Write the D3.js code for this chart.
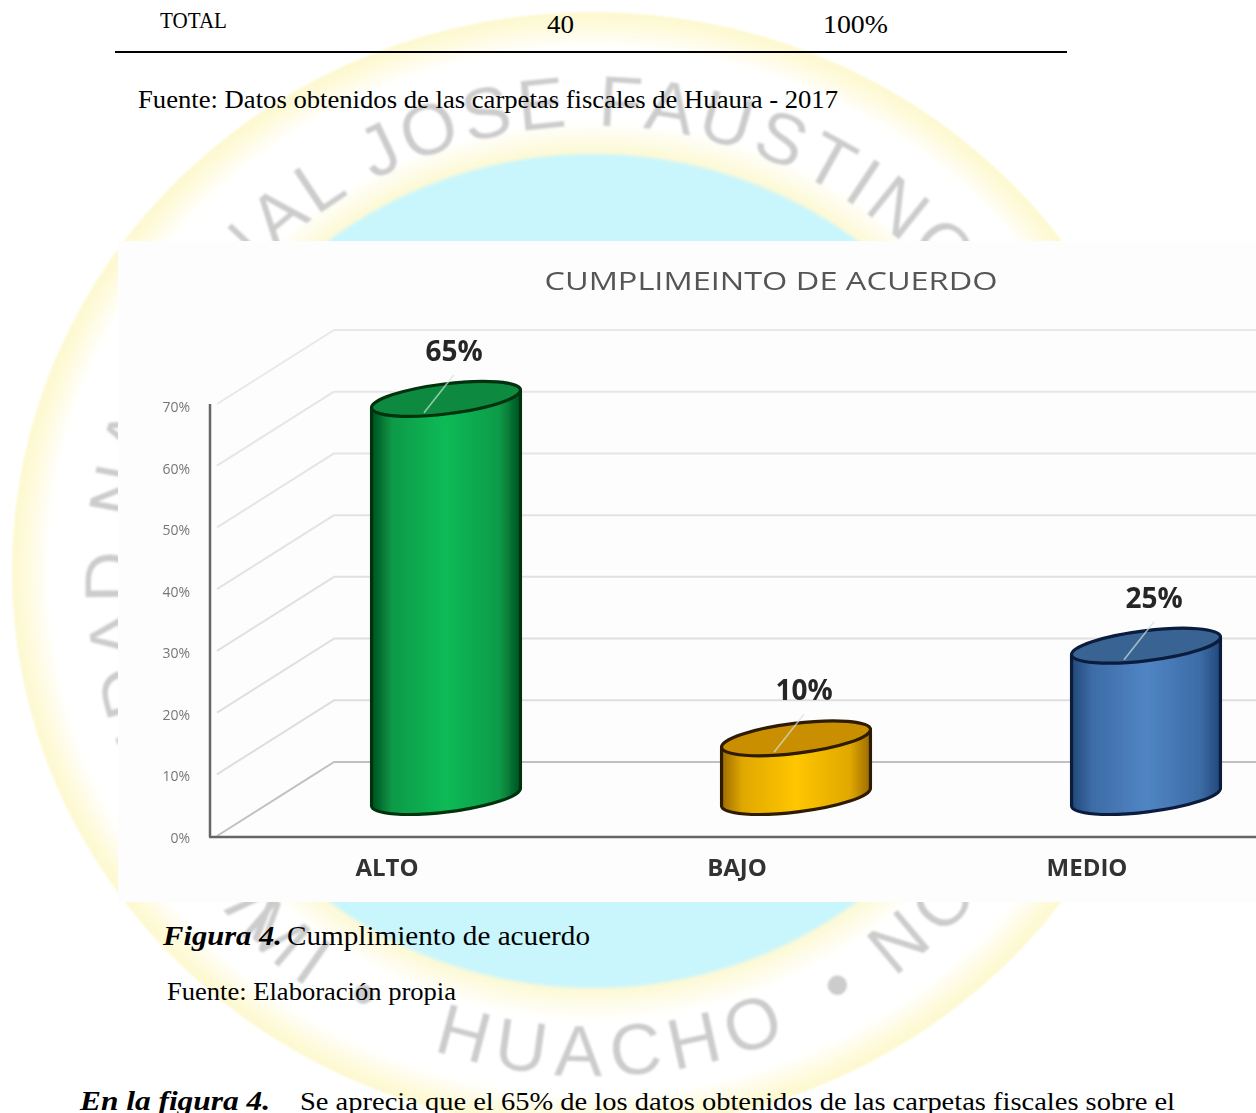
<!DOCTYPE html>
<html><head><meta charset="utf-8">
<script src="https://cdn.jsdelivr.net/npm/d3@7"></script>
<style>html,body{margin:0;padding:0;background:#fff;overflow:hidden}svg{display:block}</style>
</head><body><div id="c"></div>
<script>
const categories = ["ALTO","BAJO","MEDIO"];
const values = [65,10,25];
const tickValues = [0,10,20,30,40,50,60,70];
const chartTitle = "CUMPLIMEINTO DE ACUERDO";
const bodyColors = [["#03501f","#0a9a48","#0bbb56","#0a9a48","#03501f"],["#9c6c00","#e0a800","#ffc600","#e0a800","#9c6c00"],["#22487a","#3d6ca6","#5085c4","#3d6ca6","#22487a"]];
const topColors = ["#0a8a40","#c98f00","#386492"];
const strokeColors = ["#00330f","#2e1a00","#071e3d"];

const W=1256,H=1113;
const svg=d3.select("#c").append("svg").attr("width",W).attr("height",H).style("font-family","'Liberation Serif'");
const defs=svg.append("defs");
defs.append("filter").attr("id","soft").attr("x","-2%").attr("y","-2%").attr("width","104%").attr("height","104%")
  .append("feGaussianBlur").attr("stdDeviation",0.55);
defs.append("filter").attr("id","softer").attr("x","-2%").attr("y","-2%").attr("width","104%").attr("height","104%")
  .append("feGaussianBlur").attr("stdDeviation",1);

// Watermark
const cx=593,cy=571;
const rg=defs.append("radialGradient").attr("id","seal");
[[0,"#c9f6fc"],[0.742,"#c9f6fc"],[0.75,"#fdf9d6"],[0.775,"#fefce8"],[0.805,"#fff"],[0.935,"#fff"],[0.98,"#fefad9"],[1,"#fdf8cf"]]
  .forEach(s=>rg.append("stop").attr("offset",s[0]).attr("stop-color",s[1]));
const wm=svg.append("g").attr("filter","url(#softer)");
wm.append("ellipse").attr("cx",cx).attr("cy",cy).attr("rx",581).attr("ry",559).attr("fill","url(#seal)");
const topR=[458,445], botR=[505,505];
const sa0=Math.sin(Math.PI/3), ca0=Math.cos(Math.PI/3);
defs.append("path").attr("id","wmTop").attr("d",`M ${cx-topR[0]*ca0} ${cy+topR[1]*sa0} A ${topR[0]} ${topR[1]} 0 1 1 ${cx+topR[0]} ${cy}`);
defs.append("path").attr("id","wmBot").attr("d",`M ${cx-botR[0]} ${cy} A ${botR[0]} ${botR[1]} 0 1 0 ${cx+botR[0]} ${cy}`);
const wmStyle=s=>s.attr("font-family","'Liberation Sans'").attr("font-size",72).attr("fill","#cccccc");
wm.append("text").call(wmStyle).attr("letter-spacing",5).append("textPath").attr("href","#wmTop").attr("startOffset",87)
  .text("VERSIDAD NACIONAL JOSE FAUSTINO");
[["MI •",400],["HUACHO",630],["• NO",1050]].forEach(d=>{
  wm.append("text").call(wmStyle).attr("letter-spacing",10).append("textPath").attr("href","#wmBot").attr("startOffset",d[1]).text(d[0]);
});

// Document text
function txt(x,y,s,opt={}){
  const t=svg.append("text").attr("x",x).attr("y",y).attr("font-size",opt.size||25).attr("fill","#000").text(s);
  if(opt.len) t.attr("textLength",opt.len).attr("lengthAdjust","spacingAndGlyphs");
  if(opt.bi) t.attr("font-weight","bold").attr("font-style","italic");
  return t;
}
txt(160,28,"TOTAL",{len:67,size:23});
txt(547,33,"40",{len:27});
txt(823,33,"100%",{len:65});
svg.append("line").attr("x1",115).attr("x2",1067).attr("y1",52).attr("y2",52).attr("stroke","#000").attr("stroke-width",2);
txt(138,108,"Fuente: Datos obtenidos de las carpetas fiscales de Huaura - 2017",{len:700});
txt(163,945,"Figura 4.",{len:119,bi:1,size:28});
txt(287,945,"Cumplimiento de acuerdo",{len:303,size:28});
txt(167,1000,"Fuente: Elaboración propia",{len:289});
txt(80,1110,"En la figura 4.",{len:190,bi:1,size:27});
txt(300,1110,"Se aprecia que el 65% de los datos obtenidos de las carpetas fiscales sobre el",{len:875});

// Chart panel
svg.append("rect").attr("x",118).attr("y",241).attr("width",W-118).attr("height",661).attr("fill","#fdfdfd");
const g=svg.append("g").attr("filter","url(#soft)").style("font-family","'Open Sans'");

const x=d3.scaleBand().domain(categories).range([212,1262]);
const yFront=d3.scaleLinear().domain([0,70]).range([836,404]);
const yMid=d3.scaleLinear().domain([0,70]).range([800,368]);
const yBack=d3.scaleLinear().domain([0,70]).range([762,330]);
const yLabel=d3.scaleLinear().domain([0,70]).range([838,407]);
const gridColor=d3.scaleLinear().domain([0,10,70]).range(["#c0c0c0","#dedede","#e8e8e8"]);

const gx0=217,gx1=334;
const lineGen=d3.line().curve(d3.curveLinear);
g.append("g").selectAll("path").data(tickValues).join("path")
 .attr("d",v=>lineGen([[gx0,yFront(v)],[gx1,yBack(v)],[W,yBack(v)]]))
 .attr("fill","none").attr("stroke",gridColor).attr("stroke-width",2).attr("stroke-linejoin","round");

// Axes
const axisL=d3.axisLeft(yLabel).tickValues(tickValues).tickSize(0).tickPadding(20).tickFormat(d=>d+"%");
const gl=g.append("g").attr("transform","translate(210,0)").call(axisL);
gl.select(".domain").attr("d",`M0,${yFront(70)}V${yFront(0)+1}`).attr("stroke","#666").attr("stroke-width",2.5);
gl.selectAll("text").attr("font-size",14).attr("fill","#777").attr("font-family","'Open Sans'");

const axisB=d3.axisBottom(x).tickSize(0).tickPadding(22);
const gb=g.append("g").attr("transform","translate(0,837)").call(axisB);
gb.select(".domain").attr("d",`M209,0H${W}`).attr("stroke","#666").attr("stroke-width",2.5);
gb.selectAll("text").attr("font-size",24).attr("font-weight",700).attr("fill","#333").attr("font-family","'Open Sans'");

// Cylinders
const depthDx=59,rx=75,ry=15,rot=-7;
const ca=Math.cos(rot*Math.PI/180)*rx, sa=Math.sin(rot*Math.PI/180)*rx;
categories.forEach((c,i)=>{
  const gr=defs.append("linearGradient").attr("id","cyl"+i);
  bodyColors[i].forEach((col,k)=>gr.append("stop").attr("offset",[0,0.14,0.5,0.86,1][k]).attr("stop-color",col));
});
const bars=g.append("g").selectAll("g").data(categories.map((c,i)=>({c,v:values[i],i}))).join("g");
const cxOf=d=>x(d.c)+x.bandwidth()/2+depthDx;
bars.append("path").attr("d",d=>{
  const X=cxOf(d),t=yMid(d.v),b=yMid(0);
  return `M${X-ca},${t-sa} L${X-ca},${b-sa-3} A${rx} ${ry} ${rot} 0 0 ${X+ca},${b+sa-3} L${X+ca},${t+sa} Z`;
}).attr("fill",d=>`url(#cyl${d.i})`).attr("stroke",d=>strokeColors[d.i]).attr("stroke-width",3.2).attr("stroke-linejoin","round");
bars.append("ellipse").attr("cx",cxOf).attr("cy",d=>yMid(d.v)).attr("rx",rx).attr("ry",ry)
 .attr("transform",d=>`rotate(${rot} ${cxOf(d)} ${yMid(d.v)})`)
 .attr("fill",d=>topColors[d.i]).attr("stroke",d=>strokeColors[d.i]).attr("stroke-width",3.2);
// leader lines
bars.append("line").attr("x1",d=>cxOf(d)-22).attr("y1",d=>yMid(d.v)+14).attr("x2",d=>cxOf(d)+8).attr("y2",d=>yMid(d.v)-24)
 .attr("stroke","#cfe3d8").attr("stroke-opacity",0.7).attr("stroke-width",1.6);
// data labels
bars.append("text").attr("x",d=>cxOf(d)+8).attr("y",d=>yMid(d.v)-38).attr("text-anchor","middle")
 .attr("font-size",28).attr("font-weight",700).attr("fill","#262626").text(d=>d.v+"%");

g.append("text").attr("x",771).attr("y",290).attr("text-anchor","middle").attr("font-size",25).attr("fill","#555")
 .attr("textLength",453).attr("lengthAdjust","spacingAndGlyphs").text(chartTitle);
</script></body></html>
